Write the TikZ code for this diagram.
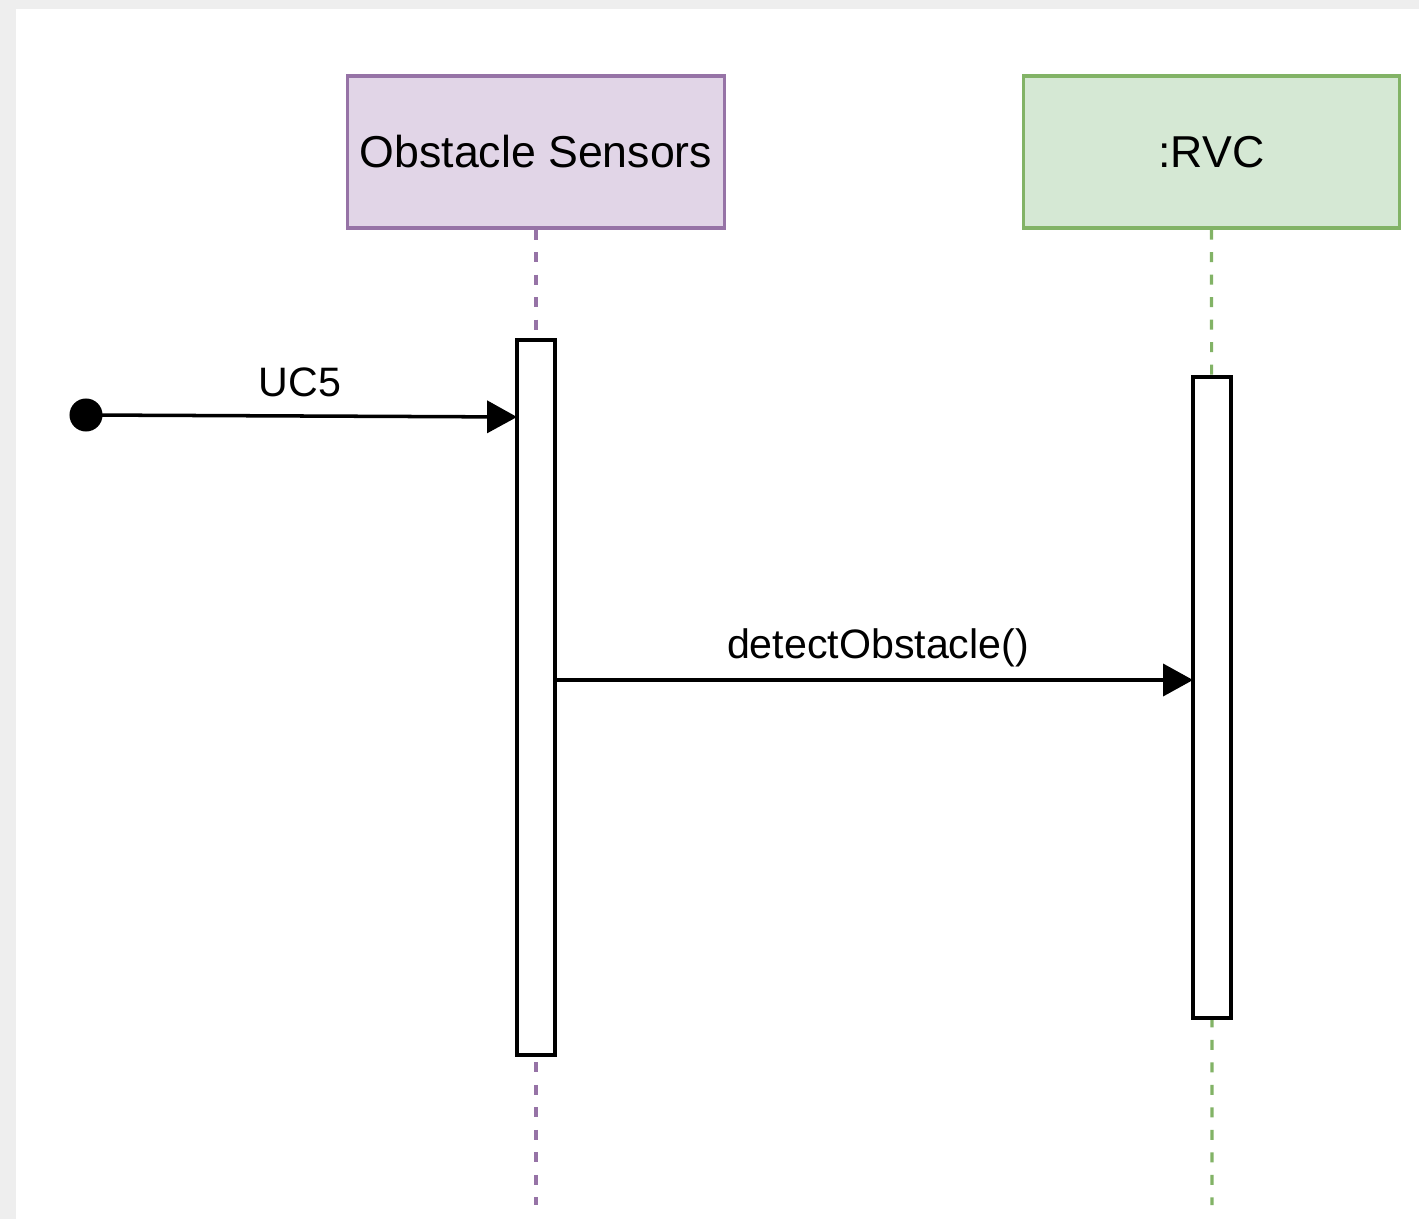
\documentclass[tikz,border=0pt]{standalone}
\usepackage{fontspec}
\setmainfont{Liberation Sans}
\usetikzlibrary{arrows.meta}
\definecolor{pagegray}{HTML}{EEEEEE}
\definecolor{osfill}{HTML}{E1D5E7}
\definecolor{osline}{HTML}{9673A6}
\definecolor{rvcfill}{HTML}{D5E8D4}
\definecolor{rvcline}{HTML}{82B366}
\tikzset{
  lifehead/.style={draw, line width=0.9pt, minimum width=3.76cm, minimum height=1.52cm,
    inner sep=0pt, font=\fontsize{12.7}{15}\selectfont},
  actbar/.style={draw=black, fill=white, line width=1pt, minimum width=0.38cm, inner sep=0pt},
  lifeline/.style={line width=0.9pt, dash pattern=on 2.85pt off 3.55pt},
  msg/.style={line width=1pt, -{Triangle[length=8.5pt, width=9.1pt]}},
  msglabel/.style={font=\fontsize{11.7}{14}\selectfont, inner sep=0pt},
}
\begin{document}
\begin{tikzpicture}[x=0.01cm, y=-0.01cm]
  % page frame
  \fill[pagegray] (0,0) rectangle (1419,1219);
  \fill[white] (16,9) rectangle (1419,1219);
  \useasboundingbox (0,0) rectangle (1419,1219);

  % participants
  \node[lifehead, draw=osline, fill=osfill] (os) at (536,152) {Obstacle Sensors};
  \node[lifehead, draw=rvcline, fill=rvcfill] (rvc) at (1211.5,152) {:RVC};

  % lifeline ends
  \coordinate (osend) at (536,1205);
  \coordinate (rvcend) at (1212,1205);
  \draw[lifeline, osline] (os.south) -- (osend);
  \draw[lifeline, rvcline] (rvc.south) -- (rvcend);

  % activation bars
  \node[actbar, minimum height=7.15cm] (osbar) at (536,697.5) {};
  \node[actbar, minimum height=6.41cm] (rvcbar) at (1212,697.5) {};

  % found message
  \node[circle, fill, inner sep=0pt, minimum size=0.33cm] (startdot) at (86,415) {};
  \coordinate (uchit) at (517,417);
  \draw[msg] (startdot.center) -- (uchit);
  \node[msglabel] (uclabel) at (300,382) {UC5};

  % call message
  \coordinate (dsrc) at (555,680);
  \coordinate (ddst) at (1193,680);
  \draw[msg] (dsrc) -- (ddst);
  \node[msglabel] (dlabel) at (878,648) {detectObstacle()};
\end{tikzpicture}
\end{document}
